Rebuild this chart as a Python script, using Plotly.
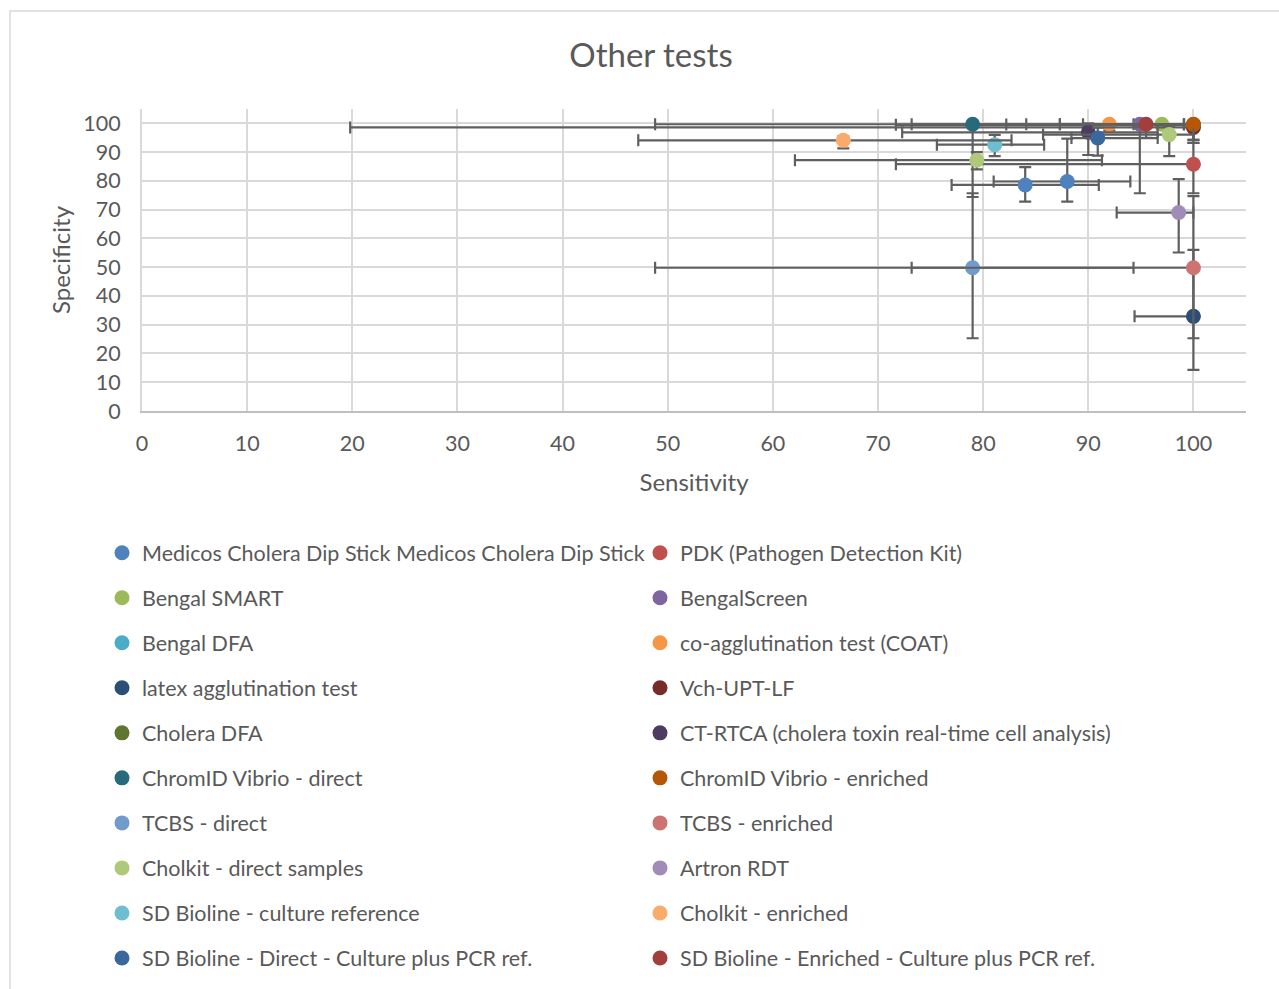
import plotly.graph_objects as go

# ---------------- data ----------------
series_names = [
    "Medicos Cholera Dip Stick Medicos Cholera Dip Stick",
    "PDK (Pathogen Detection Kit)",
    "Bengal SMART",
    "BengalScreen",
    "Bengal DFA",
    "co-agglutination test (COAT)",
    "latex agglutination test",
    "Vch-UPT-LF",
    "Cholera DFA",
    "CT-RTCA (cholera toxin real-time cell analysis)",
    "ChromID Vibrio - direct",
    "ChromID Vibrio - enriched",
    "TCBS - direct",
    "TCBS - enriched",
    "Cholkit - direct samples",
    "Artron RDT",
    "SD Bioline - culture reference",
    "Cholkit - enriched",
    "SD Bioline - Direct - Culture plus PCR ref.",
    "SD Bioline - Enriched - Culture plus PCR ref.",
]

# sensitivity (x) and specificity (y) point estimates
sensitivity = [
    [84.0, 88.0], [100.0], [97.0], [94.9], [100.0], [92.0], [100.0], [100.0],
    [100.0], [90.0], [79.0], [100.0], [79.0], [100.0], [79.4, 97.7], [98.6],
    [81.1], [66.7], [90.9], [95.5],
]
specificity = [
    [78.6, 79.8], [85.8], [99.7], [99.7], [99.5], [99.7], [32.9], [98.6],
    [99.6], [96.9], [99.7], [99.7], [49.8], [49.8], [87.2, 96.1], [69.0],
    [92.6], [94.1], [94.9], [99.7],
]
# 95% CI bounds for sensitivity
sens_low = [
    [77.0, 81.0], [71.7], [94.3], [89.5], [71.7], [73.2], [94.4], [19.8],
    [82.2], [72.3], [48.8], [87.3], [48.8], [73.2], [62.1, 85.7], [92.7],
    [75.6], [47.2], [88.4], [87.3],
]
sens_high = [
    [91.0, 94.0], [100.0], [100.0], [99.1], [100.0], [99.1], [100.0], [100.0],
    [100.0], [96.6], [84.1], [100.0], [94.3], [100.0], [91.3, 100.0], [100.0],
    [85.8], [82.7], [96.6], [99.1],
]
# 95% CI bounds for specificity
spec_low = [
    [72.8, 72.8], [75.7], [98.0], [75.7], [94.3], [97.5], [14.3], [93.2],
    [98.5], [89.0], [74.4], [94.3], [25.3], [25.3], [84.0, 88.6], [55.1],
    [88.6], [91.3], [88.8], [95.0],
]
spec_high = [
    [84.8, 94.7], [93.2], [100.0], [100.0], [100.0], [100.0], [56.0], [100.0],
    [100.0], [100.0], [100.0], [100.0], [75.7], [74.7], [90.0, 99.0], [80.6],
    [96.0], [95.5], [98.5], [100.0],
]

colors = [
    "#4F81BD", "#C0504D", "#9BBB59", "#8064A2", "#4BACC6", "#F79646",
    "#2C4D75", "#772C2A", "#5F7530", "#4D3B62", "#276A7C", "#B65708",
    "#729ACA", "#CD7371", "#AFC97A", "#A18CB7", "#6FBDD1", "#F9AB6B",
    "#3A679C", "#A13F3D",
]

x_ticks = list(range(0, 101, 10))
y_ticks = list(range(0, 101, 10))

# ---------------- layout geometry (pixels) ----------------
W, H = 1279, 989
L, R, T, B = 142, 1246, 108.5, 412
FONT = "Lato, Carlito, Calibri, sans-serif"
TXT = "#595959"


def px_to_paper_x(px):
    return (px - L) / (R - L)


def px_to_paper_y(py):
    return (B - py) / (B - T)


fig = go.Figure()
legend_layouts = {}
row_y0, row_step = 553, 45.1
col_text_x = [142, 680]
TEXT_OFFSET = 40

for i, name in enumerate(series_names):
    xs, ys = sensitivity[i], specificity[i]
    ex_p = [h - v for h, v in zip(sens_high[i], xs)]
    ex_m = [v - l for l, v in zip(sens_low[i], xs)]
    ey_p = [h - v for h, v in zip(spec_high[i], ys)]
    ey_m = [v - l for l, v in zip(spec_low[i], ys)]
    lg = "legend" if i == 0 else f"legend{i + 1}"
    fig.add_trace(go.Scatter(
        x=xs, y=ys, name=name, mode="markers", legend=lg, showlegend=True,
        marker=dict(size=15, color=colors[i], line=dict(width=0)),
        error_x=dict(type="data", symmetric=False, array=ex_p, arrayminus=ex_m,
                     color="#5F5F5F", thickness=2.2, width=6),
        error_y=dict(type="data", symmetric=False, array=ey_p, arrayminus=ey_m,
                     color="#5F5F5F", thickness=2.2, width=6),
        cliponaxis=False,
    ))
    row, col = divmod(i, 2)
    py = row_y0 + row * row_step
    legend_layouts[lg] = dict(
        x=px_to_paper_x(col_text_x[col] - TEXT_OFFSET),
        y=px_to_paper_y(py),
        xanchor="left", yanchor="middle", orientation="h",
        bgcolor="rgba(0,0,0,0)", borderwidth=0,
        font=dict(family=FONT, size=21.5, color=TXT),
        itemwidth=30,
    )

fig.update_layout(
    width=W, height=H, showlegend=True,
    margin=dict(l=L, r=W - R, t=T, b=H - B, pad=0),
    paper_bgcolor="white", plot_bgcolor="white",
    font=dict(family=FONT, color=TXT),
    title=dict(text="Other tests", x=651 / W, y=1 - 55 / H, xref="container",
               yref="container", xanchor="center", yanchor="middle",
               font=dict(family=FONT, size=33, color=TXT)),
    xaxis=dict(range=[0, 105], tickvals=x_ticks, ticktext=[str(v) for v in x_ticks],
               showgrid=True, gridcolor="#D9D9D9", gridwidth=2,
               showline=True, linecolor="#BFBFBF", linewidth=2,
               zeroline=False, ticks="", ticklabelstandoff=12,
               tickfont=dict(family=FONT, size=21.5, color=TXT),
               title=dict(text="Sensitivity", standoff=19,
                          font=dict(family=FONT, size=24, color=TXT))),
    yaxis=dict(range=[0, 105], tickvals=y_ticks, ticktext=[str(v) for v in y_ticks],
               showgrid=True, gridcolor="#D9D9D9", gridwidth=2,
               showline=True, linecolor="#D9D9D9", linewidth=2,
               zeroline=False, ticks="", ticklabelstandoff=15,
               tickfont=dict(family=FONT, size=21.5, color=TXT),
               title=dict(text="Specificity", standoff=6,
                          font=dict(family=FONT, size=24, color=TXT))),
    shapes=[dict(type="rect", xref="paper", yref="paper",
                 x0=px_to_paper_x(10), x1=px_to_paper_x(1300),
                 y0=px_to_paper_y(1010), y1=px_to_paper_y(10),
                 line=dict(color="#D9D9D9", width=1.5), fillcolor="rgba(0,0,0,0)",
                 layer="below")],
    **legend_layouts,
)

fig.write_html("out.html", config={"displayModeBar": False},
               post_script="document.body.style.margin='0';")
